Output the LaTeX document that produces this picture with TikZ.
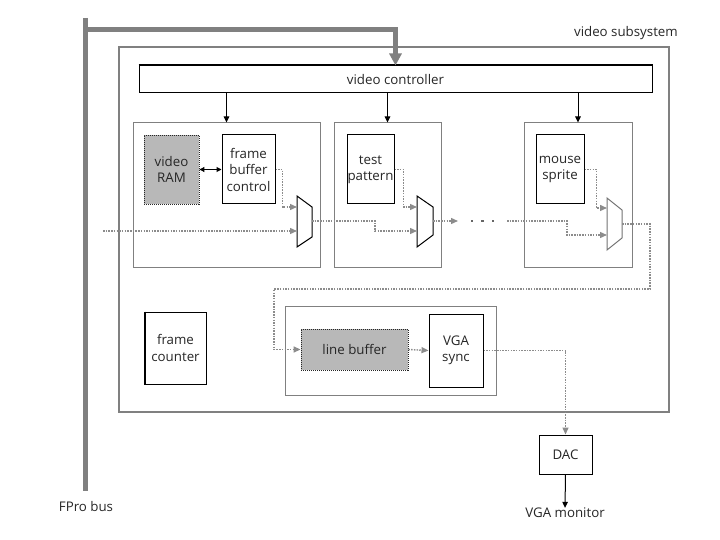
\documentclass[tikz,border=0pt]{standalone}
\usepackage{fontspec}
\setmainfont{Open Sans}
\usetikzlibrary{arrows.meta}
\begin{document}
\begin{tikzpicture}[x=1pt,y=-1pt,
  font=\fontsize{13.3}{16.5}\selectfont,
  every node/.style={inner sep=0pt, align=center, text=black!85},
  blk/.style={draw=black, line width=1pt, fill=white},
  grp/.style={draw=black!50, line width=1pt},
  mem/.style={fill=black!28, draw=black!85, line width=0.9pt, dash pattern=on 1pt off 1pt},
  datal/.style={draw=black!45, line width=1.4pt, dash pattern=on 1.5pt off 1.2pt},
  data/.style={datal, -{Triangle[length=7pt,width=6pt]}},
  ctl/.style={draw=black, line width=1pt, -{Triangle[length=6pt,width=5.5pt]}},
  dbl/.style={draw=black, line width=1pt, {Triangle[length=5pt,width=5pt]}-{Triangle[length=5pt,width=5pt]}},
  busline/.style={draw=black!50, line width=5pt},
  muxs/.style={draw=black, line width=1pt, fill=white},
  dotm/.style={fill=black!60, draw=none, minimum size=2.8pt}
]
\useasboundingbox (0,0) rectangle (720,540);

% outer subsystem box
\node[grp, line width=1.3pt, minimum width=550pt, minimum height=365pt] (vsub) at (394,229.5) {};
\node[anchor=east] (vsublbl) at (678,33) {video subsystem};

% video controller
\node[blk, minimum width=513pt, minimum height=27pt] (vctrl) at (395.5,79.5) {video controller};
\draw[line width=2pt] (vctrl.north west) -- (vctrl.north east);

% group boxes
\node[grp, minimum width=187pt, minimum height=144pt] (sb1) at (226.5,195) {};
\node[grp, minimum width=107pt, minimum height=144pt] (sb2) at (387.5,195) {};
\node[grp, minimum width=108pt, minimum height=144pt] (sb3) at (578,195) {};
\node[grp, minimum width=211pt, minimum height=89pt] (sb4) at (390.5,350.5) {};

% inner blocks
\node[mem, minimum width=55pt, minimum height=69pt] (vram) at (171.5,169.5) {video\\RAM};
\node[blk, minimum width=53pt, minimum height=69pt] (fbc) at (248.5,169.5) {frame\\buffer\\control};
\node[blk, minimum width=47pt, minimum height=69pt] (tpat) at (370.5,169.5) {test\\pattern};
\node[blk, minimum width=48pt, minimum height=69pt] (msp) at (560,169.5) {mouse\\sprite};
\node[blk, minimum width=61pt, minimum height=72pt] (fcnt) at (175.5,348) {frame\\counter};
\draw[line width=2pt] (fcnt.north west) -- (fcnt.south west);
\node[mem, minimum width=107pt, minimum height=41pt] (lbuf) at (354.5,349.5) {line buffer};
\node[blk, minimum width=54pt, minimum height=73pt] (vsync) at (456,350.5) {VGA\\sync};
\node[blk, minimum width=53pt, minimum height=39pt] (dac) at (565.5,454.5) {DAC};
\node (vgalbl) at (565,513) {VGA monitor};
\node (fprolbl) at (86,507) {FPro bus};

% FPro bus
\coordinate (bustop) at (85,18);
\coordinate (buscorner) at (85,30);
\coordinate (busbot) at (85,491);
\draw[busline] (bustop) -- (busbot);
\draw[busline, -{Triangle[length=12pt,width=12pt]}] (buscorner) -| (vctrl.north);

% control arrows
\draw[ctl] (vctrl.south -| sb1.north) -- (sb1.north);
\draw[ctl] (vctrl.south -| sb2.north) -- (sb2.north);
\draw[ctl] (vctrl.south -| sb3.north) -- (sb3.north);

% video RAM <-> frame buffer control
\draw[dbl] (vram.east) -- (fbc.west);

% multiplexers
\draw[muxs] (297,196) -- (312,207) -- (312,237) -- (297,247) -- cycle;
\draw[muxs] (417,196) -- (433,207) -- (433,235) -- (417,247) -- cycle;
\draw[muxs, draw=black!55] (607,198) -- (622,210) -- (622,238) -- (607,250) -- cycle;
\coordinate (m1a) at (297,207);
\coordinate (m1b) at (297,231);
\coordinate (m1o) at (312,221);
\coordinate (m2a) at (417,207);
\coordinate (m2b) at (417,231);
\coordinate (m2o) at (433,221);
\coordinate (m3a) at (607,208);
\coordinate (m3b) at (607,235);
\coordinate (m3o) at (622,224);
\coordinate (in1) at (103,231);
\coordinate (dotarr) at (458,221);
\coordinate (resume) at (507,221);

% data paths
\draw[data] (fbc.east) -- ++(7,0) |- (m1a);
\draw[data] (in1) -- (m1b);
\draw[data] (m1o) -- (m1o -| 375,0) |- (m2b);
\draw[data] (tpat.east) -- ++(9,0) |- (m2a);
\draw[data] (m2o) -- (dotarr);
\node[dotm] (d1) at (472,221) {};
\node[dotm] (d2) at (482.5,221) {};
\node[dotm] (d3) at (493,221) {};
\draw[data] (resume) -- (567,221) |- (m3b);
\draw[data] (msp.east) -- ++(12,0) |- (m3a);
\draw[data] (m3o) -- (650,224) -- (650,289) -- (274,289) |- (lbuf.west);
\draw[data] (lbuf.east) -- (vsync.west);
\draw[data] (vsync.east) -| (dac.north);

% DAC to monitor
\draw[ctl] (dac.south) -- (vgalbl.north);
\end{tikzpicture}
\end{document}
